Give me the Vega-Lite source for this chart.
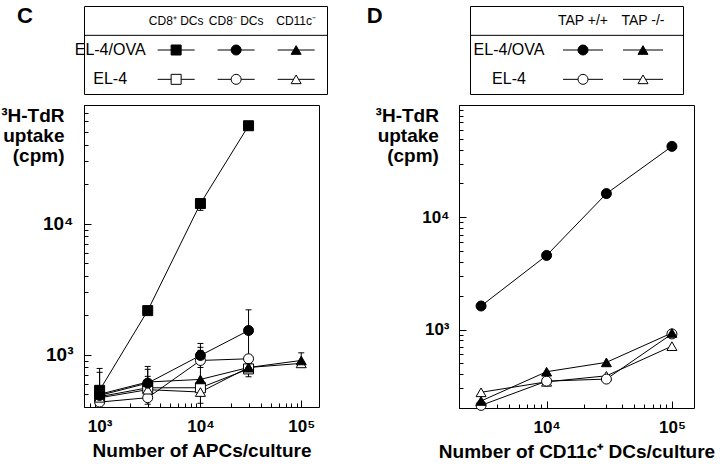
{
  "$schema": "https://vega.github.io/schema/vega-lite/v6.json",
  "background": "white",
  "padding": {"left": 0, "top": 4, "right": 0, "bottom": 0},
  "config": {
    "font": "Liberation Sans",
    "view": {"stroke": "black", "strokeWidth": 1},
    "axis": {"domain": false, "grid": false, "labelFont": "Liberation Sans", "titleFont": "Liberation Sans", "labelFontWeight": "bold", "titleFontWeight": "bold", "labelColor": "black", "titleColor": "black", "tickColor": "black", "labelOverlap": false, "labelFlush": false},
    "text": {"font": "Liberation Sans", "color": "black"},
    "title": {"font": "Liberation Sans", "color": "black"}
  },
  "datasets": {
    "C": [
      {"apc": "CD8+", "target": "EL-4", "n": 1000, "cpm": 480},
      {"apc": "CD8+", "target": "EL-4", "n": 3000, "cpm": 560},
      {"apc": "CD8+", "target": "EL-4", "n": 10000, "cpm": 561},
      {"apc": "CD8+", "target": "EL-4", "n": 30000, "cpm": 780},
      {"apc": "CD8-", "target": "EL-4", "n": 1000, "cpm": 436},
      {"apc": "CD8-", "target": "EL-4", "n": 3000, "cpm": 471, "lo": 420, "hi": 560},
      {"apc": "CD8-", "target": "EL-4", "n": 10000, "cpm": 905, "lo": 800, "hi": 1140},
      {"apc": "CD8-", "target": "EL-4", "n": 30000, "cpm": 932},
      {"apc": "CD11c-", "target": "EL-4", "n": 1000, "cpm": 470},
      {"apc": "CD11c-", "target": "EL-4", "n": 3000, "cpm": 542, "lo": 480, "hi": 685},
      {"apc": "CD11c-", "target": "EL-4", "n": 10000, "cpm": 520, "lo": 427, "hi": 600},
      {"apc": "CD11c-", "target": "EL-4", "n": 30000, "cpm": 800},
      {"apc": "CD11c-", "target": "EL-4", "n": 100000, "cpm": 860},
      {"apc": "CD11c-", "target": "EL-4/OVA", "n": 1000, "cpm": 500},
      {"apc": "CD11c-", "target": "EL-4/OVA", "n": 3000, "cpm": 620, "lo": 560, "hi": 775},
      {"apc": "CD11c-", "target": "EL-4/OVA", "n": 10000, "cpm": 649, "lo": 580, "hi": 1080},
      {"apc": "CD11c-", "target": "EL-4/OVA", "n": 30000, "cpm": 800, "lo": 740, "hi": 860},
      {"apc": "CD11c-", "target": "EL-4/OVA", "n": 100000, "cpm": 905, "lo": 830, "hi": 1035},
      {"apc": "CD8-", "target": "EL-4/OVA", "n": 1000, "cpm": 490, "lo": 450, "hi": 735},
      {"apc": "CD8-", "target": "EL-4/OVA", "n": 3000, "cpm": 608, "lo": 540, "hi": 815},
      {"apc": "CD8-", "target": "EL-4/OVA", "n": 10000, "cpm": 988, "lo": 880, "hi": 1220},
      {"apc": "CD8-", "target": "EL-4/OVA", "n": 30000, "cpm": 1530, "lo": 680, "hi": 2200},
      {"apc": "CD8+", "target": "EL-4/OVA", "n": 1000, "cpm": 536, "lo": 500, "hi": 787},
      {"apc": "CD8+", "target": "EL-4/OVA", "n": 3000, "cpm": 2170},
      {"apc": "CD8+", "target": "EL-4/OVA", "n": 10000, "cpm": 14200, "lo": 12600, "hi": 15000},
      {"apc": "CD8+", "target": "EL-4/OVA", "n": 30000, "cpm": 55600}
    ],
    "D": [
      {"apc": "TAP-/-", "target": "EL-4", "n": 3000, "cpm": 276},
      {"apc": "TAP-/-", "target": "EL-4", "n": 10000, "cpm": 342},
      {"apc": "TAP-/-", "target": "EL-4", "n": 30000, "cpm": 387},
      {"apc": "TAP-/-", "target": "EL-4", "n": 100000, "cpm": 711},
      {"apc": "TAP+/+", "target": "EL-4", "n": 3000, "cpm": 211},
      {"apc": "TAP+/+", "target": "EL-4", "n": 10000, "cpm": 347},
      {"apc": "TAP+/+", "target": "EL-4", "n": 30000, "cpm": 362},
      {"apc": "TAP+/+", "target": "EL-4", "n": 100000, "cpm": 914},
      {"apc": "TAP-/-", "target": "EL-4/OVA", "n": 3000, "cpm": 231},
      {"apc": "TAP-/-", "target": "EL-4/OVA", "n": 10000, "cpm": 421},
      {"apc": "TAP-/-", "target": "EL-4/OVA", "n": 30000, "cpm": 510},
      {"apc": "TAP-/-", "target": "EL-4/OVA", "n": 100000, "cpm": 932},
      {"apc": "TAP+/+", "target": "EL-4/OVA", "n": 3000, "cpm": 1620},
      {"apc": "TAP+/+", "target": "EL-4/OVA", "n": 10000, "cpm": 4570},
      {"apc": "TAP+/+", "target": "EL-4/OVA", "n": 30000, "cpm": 16240},
      {"apc": "TAP+/+", "target": "EL-4/OVA", "n": 100000, "cpm": 42800}
    ],
    "legC_sym": [
      {"col": "CD8+", "row": "EL-4/OVA"}, {"col": "CD8-", "row": "EL-4/OVA"}, {"col": "CD11c-", "row": "EL-4/OVA"},
      {"col": "CD8+", "row": "EL-4"}, {"col": "CD8-", "row": "EL-4"}, {"col": "CD11c-", "row": "EL-4"}
    ],
    "legC_head": [
      {"col": "CD8+", "row": "header", "label": "CD8⁺ DCs"},
      {"col": "CD8-", "row": "header", "label": "CD8⁻ DCs"},
      {"col": "CD11c-", "row": "header", "label": "CD11c⁻"}
    ],
    "legC_rows": [
      {"col": "label", "row": "EL-4/OVA", "label": "EL-4/OVA"},
      {"col": "label", "row": "EL-4", "label": "EL-4"}
    ],
    "legD_sym": [
      {"col": "TAP+/+", "row": "EL-4/OVA"}, {"col": "TAP-/-", "row": "EL-4/OVA"},
      {"col": "TAP+/+", "row": "EL-4"}, {"col": "TAP-/-", "row": "EL-4"}
    ],
    "legD_head": [
      {"col": "TAP+/+", "row": "header", "label": "TAP +/+"},
      {"col": "TAP-/-", "row": "header", "label": "TAP -/-"}
    ],
    "legD_rows": [
      {"col": "label", "row": "EL-4/OVA", "label": "EL-4/OVA"},
      {"col": "label", "row": "EL-4", "label": "EL-4"}
    ],
    "sep": [{"row": "EL-4/OVA"}]
  },
  "spacing": 0,
  "vconcat": [
    {
      "spacing": 38,
      "hconcat": [
        {
          "width": 243,
          "height": 88,
          "title": {"text": "C", "orient": "left", "anchor": "end", "angle": 0, "align": "right", "baseline": "top", "offset": 26, "fontSize": 22, "fontWeight": "bold"},
          "encoding": {
            "y": {"field": "row", "type": "nominal", "scale": {"type": "band", "domain": ["header", "EL-4/OVA", "EL-4"], "paddingInner": 0, "paddingOuter": 0}, "axis": null}
          },
          "layer": [
            {
              "data": {"name": "sep"},
              "mark": {"type": "rule", "color": "black", "strokeWidth": 1},
              "encoding": {"y": {"field": "row", "type": "nominal", "bandPosition": 0}}
            },
            {
              "data": {"name": "legC_sym"},
              "mark": {"type": "point", "shape": "stroke", "size": 1369, "stroke": "black", "strokeWidth": 1, "opacity": 1},
              "encoding": {
                "x": {"field": "col", "type": "nominal", "scale": {"type": "point", "domain": ["label", "CD8+", "CD8-", "CD11c-"], "padding": 0.525, "align": 0.51}, "axis": null}
              }
            },
            {
              "data": {"name": "legC_sym"},
              "mark": {"type": "point", "filled": true, "stroke": "black", "strokeWidth": 1, "opacity": 1, "size": 100},
              "encoding": {
                "x": {"field": "col", "type": "nominal"},
                "shape": {"field": "col", "type": "nominal", "scale": {"domain": ["CD8+", "CD8-", "CD11c-", "TAP+/+", "TAP-/-"], "range": ["square", "circle", "triangle-up", "circle", "triangle-up"]}, "legend": null},
                "fill": {"field": "row", "type": "nominal", "scale": {"domain": ["EL-4/OVA", "EL-4"], "range": ["black", "white"]}, "legend": null}
              }
            },
            {
              "data": {"name": "legC_head"},
              "mark": {"type": "text", "fontSize": 12, "color": "black"},
              "encoding": {"x": {"field": "col", "type": "nominal"}, "text": {"field": "label"}}
            },
            {
              "data": {"name": "legC_rows"},
              "mark": {"type": "text", "fontSize": 16, "color": "black", "dx": -6},
              "encoding": {"x": {"field": "col", "type": "nominal"}, "text": {"field": "label"}}
            }
          ]
        },
        {
          "width": 213,
          "height": 88,
          "title": {"text": "D", "orient": "left", "anchor": "end", "angle": 0, "align": "right", "baseline": "top", "offset": 71, "fontSize": 22, "fontWeight": "bold"},
          "encoding": {
            "y": {"field": "row", "type": "nominal", "scale": {"type": "band", "domain": ["header", "EL-4/OVA", "EL-4"], "paddingInner": 0, "paddingOuter": 0}, "axis": null}
          },
          "layer": [
            {
              "data": {"name": "sep"},
              "mark": {"type": "rule", "color": "black", "strokeWidth": 1},
              "encoding": {"y": {"field": "row", "type": "nominal", "bandPosition": 0}}
            },
            {
              "data": {"name": "legD_sym"},
              "mark": {"type": "point", "shape": "stroke", "size": 1600, "stroke": "black", "strokeWidth": 1, "opacity": 1},
              "encoding": {
                "x": {"field": "col", "type": "nominal", "scale": {"type": "point", "domain": ["label", "TAP+/+", "TAP-/-"], "padding": 0.775, "align": 0.57}, "axis": null}
              }
            },
            {
              "data": {"name": "legD_sym"},
              "mark": {"type": "point", "filled": true, "stroke": "black", "strokeWidth": 1, "opacity": 1, "size": 100},
              "encoding": {
                "x": {"field": "col", "type": "nominal"},
                "shape": {"field": "col", "type": "nominal", "scale": {"domain": ["CD8+", "CD8-", "CD11c-", "TAP+/+", "TAP-/-"], "range": ["square", "circle", "triangle-up", "circle", "triangle-up"]}, "legend": null},
                "fill": {"field": "row", "type": "nominal", "scale": {"domain": ["EL-4/OVA", "EL-4"], "range": ["black", "white"]}, "legend": null}
              }
            },
            {
              "data": {"name": "legD_head"},
              "mark": {"type": "text", "fontSize": 14, "color": "black"},
              "encoding": {"x": {"field": "col", "type": "nominal"}, "text": {"field": "label"}}
            },
            {
              "data": {"name": "legD_rows"},
              "mark": {"type": "text", "fontSize": 16, "color": "black", "dx": -14},
              "encoding": {"x": {"field": "col", "type": "nominal"}, "text": {"field": "label"}}
            }
          ]
        }
      ]
    },
    {
      "spacing": 54,
      "hconcat": [
        {
          "width": 235,
          "height": 302,
          "data": {"name": "C"},
          "layer": [
            {
              "mark": {"type": "line", "color": "black", "strokeWidth": 1},
              "encoding": {
                "x": {
                  "field": "n", "type": "quantitative",
                  "scale": {"type": "log", "domain": [700, 150000], "nice": false},
                  "axis": {
                    "values": [700, 800, 900, 1000, 2000, 3000, 4000, 5000, 6000, 7000, 8000, 9000, 10000, 20000, 30000, 40000, 50000, 60000, 70000, 80000, 90000, 100000],
                    "labelExpr": "datum.value == 1000 ? '10³' : datum.value == 10000 ? '10⁴' : datum.value == 100000 ? '10⁵' : ''",
                    "tickSize": {"condition": {"test": "indexof([1000, 10000, 100000], datum.value) >= 0", "value": -7}, "value": -4},
                    "labelPadding": 18,
                    "labelFontSize": 17,
                    "title": "Number of APCs/culture",
                    "titleFontSize": 19,
                    "titlePadding": 4
                  }
                },
                "y": {
                  "field": "cpm", "type": "quantitative",
                  "scale": {"type": "log", "domain": [400, 80000], "nice": false},
                  "axis": {
                    "values": [400, 500, 600, 700, 800, 900, 1000, 2000, 3000, 4000, 5000, 6000, 7000, 8000, 9000, 10000, 20000, 30000, 40000, 50000, 60000, 70000, 80000],
                    "labelExpr": "datum.value == 1000 ? '10³' : datum.value == 10000 ? '10⁴' : ''",
                    "tickSize": {"condition": {"test": "indexof([1000, 10000, 100000], datum.value) >= 0", "value": -7}, "value": -4},
                    "labelPadding": 18,
                    "labelFontSize": 19,
                    "title": ["³H-TdR", "uptake", "(cpm)"],
                    "titleAngle": 0,
                    "titleAlign": "right",
                    "titleBaseline": "alphabetic",
                    "titleX": -20,
                    "titleY": 16,
                    "titleFontSize": 19,
                    "titleLineHeight": 20
                  }
                },
                "detail": [{"field": "apc"}, {"field": "target"}]
              }
            },
            {
              "transform": [{"filter": "isValid(datum.hi)"}],
              "mark": {"type": "rule", "color": "black", "strokeWidth": 1},
              "encoding": {
                "x": {"field": "n", "type": "quantitative"},
                "y": {"field": "lo", "type": "quantitative"},
                "y2": {"field": "hi"}
              }
            },
            {
              "transform": [{"filter": "isValid(datum.hi)"}],
              "mark": {"type": "tick", "orient": "horizontal", "color": "black", "size": 6, "thickness": 1, "opacity": 1},
              "encoding": {
                "x": {"field": "n", "type": "quantitative"},
                "y": {"field": "hi", "type": "quantitative"}
              }
            },
            {
              "transform": [{"filter": "isValid(datum.lo)"}],
              "mark": {"type": "tick", "orient": "horizontal", "color": "black", "size": 6, "thickness": 1, "opacity": 1},
              "encoding": {
                "x": {"field": "n", "type": "quantitative"},
                "y": {"field": "lo", "type": "quantitative"}
              }
            },
            {
              "mark": {"type": "point", "filled": true, "stroke": "black", "strokeWidth": 1, "opacity": 1, "size": 100},
              "encoding": {
                "x": {"field": "n", "type": "quantitative"},
                "y": {"field": "cpm", "type": "quantitative"},
                "shape": {"field": "apc", "type": "nominal", "scale": {"domain": ["CD8+", "CD8-", "CD11c-", "TAP+/+", "TAP-/-"], "range": ["square", "circle", "triangle-up", "circle", "triangle-up"]}, "legend": null},
                "fill": {"field": "target", "type": "nominal", "scale": {"domain": ["EL-4/OVA", "EL-4"], "range": ["black", "white"]}, "legend": null}
              }
            }
          ]
        },
        {
          "width": 235,
          "height": 303,
          "data": {"name": "D"},
          "layer": [
            {
              "mark": {"type": "line", "color": "black", "strokeWidth": 1},
              "encoding": {
                "x": {
                  "field": "n", "type": "quantitative",
                  "scale": {"type": "log", "domain": [2000, 150000], "nice": false},
                  "axis": {
                    "values": [2000, 3000, 4000, 5000, 6000, 7000, 8000, 9000, 10000, 20000, 30000, 40000, 50000, 60000, 70000, 80000, 90000, 100000],
                    "labelExpr": "datum.value == 10000 ? '10⁴' : datum.value == 100000 ? '10⁵' : ''",
                    "tickSize": {"condition": {"test": "indexof([1000, 10000, 100000], datum.value) >= 0", "value": -7}, "value": -4},
                    "labelPadding": 18,
                    "labelFontSize": 17,
                    "title": "Number of CD11c⁺ DCs/culture",
                    "titleFontSize": 19,
                    "titlePadding": 4
                  }
                },
                "y": {
                  "field": "cpm", "type": "quantitative",
                  "scale": {"type": "log", "domain": [200, 100000], "nice": false},
                  "axis": {
                    "values": [200, 300, 400, 500, 600, 700, 800, 900, 1000, 2000, 3000, 4000, 5000, 6000, 7000, 8000, 9000, 10000, 20000, 30000, 40000, 50000, 60000, 70000, 80000, 90000, 100000],
                    "labelExpr": "datum.value == 1000 ? '10³' : datum.value == 10000 ? '10⁴' : ''",
                    "tickSize": {"condition": {"test": "indexof([1000, 10000, 100000], datum.value) >= 0", "value": -7}, "value": -4},
                    "labelPadding": 17,
                    "labelFontSize": 17,
                    "title": ["³H-TdR", "uptake", "(cpm)"],
                    "titleAngle": 0,
                    "titleAlign": "right",
                    "titleBaseline": "alphabetic",
                    "titleX": -20.6,
                    "titleY": 16,
                    "titleFontSize": 19,
                    "titleLineHeight": 20
                  }
                },
                "detail": [{"field": "apc"}, {"field": "target"}]
              }
            },
            {
              "mark": {"type": "point", "filled": true, "stroke": "black", "strokeWidth": 1, "opacity": 1, "size": 100},
              "encoding": {
                "x": {"field": "n", "type": "quantitative"},
                "y": {"field": "cpm", "type": "quantitative"},
                "shape": {"field": "apc", "type": "nominal", "scale": {"domain": ["CD8+", "CD8-", "CD11c-", "TAP+/+", "TAP-/-"], "range": ["square", "circle", "triangle-up", "circle", "triangle-up"]}, "legend": null},
                "fill": {"field": "target", "type": "nominal", "scale": {"domain": ["EL-4/OVA", "EL-4"], "range": ["black", "white"]}, "legend": null}
              }
            }
          ]
        }
      ]
    }
  ]
}
